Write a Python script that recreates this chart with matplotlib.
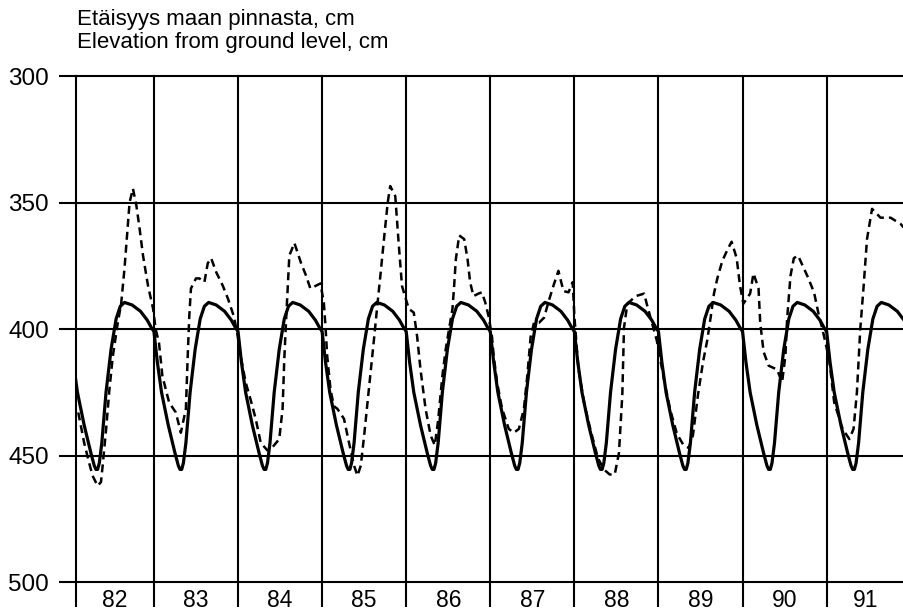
import numpy as np
import matplotlib.pyplot as plt

plt.rcParams['font.family'] = ['Liberation Sans', 'DejaVu Sans']

years = list(range(82, 92))
x_start, x_end = 82.067, 91.92

# typical seasonal curve: fraction of year -> depth below ground (cm)
profile_frac = [0.00, 0.04, 0.09, 0.17, 0.25, 0.29, 0.31, 0.33, 0.35, 0.38,
                0.43, 0.49, 0.55, 0.60, 0.65, 0.74, 0.84, 0.92, 0.97]
profile_depth = [401, 413, 425, 438, 449, 454, 455.5, 455.5, 453, 445,
                 425, 408, 396, 391, 389.5, 390.5, 393, 396.5, 399.5]

# observed levels
obs_time = [
    82.10, 82.17, 82.23, 82.27, 82.33, 82.37, 82.39, 82.43, 82.47, 82.51, 82.57,
    82.61, 82.65, 82.68, 82.71, 82.75, 82.79, 82.83, 82.87, 82.93, 82.99,
    83.02, 83.06, 83.10, 83.18, 83.26, 83.32, 83.38, 83.40, 83.42, 83.44,
    83.50, 83.54, 83.60, 83.64, 83.68, 83.74, 83.82, 83.88, 83.95, 83.99,
    84.03, 84.09, 84.15, 84.21, 84.27, 84.35, 84.39, 84.49, 84.53, 84.55,
    84.57, 84.61, 84.67, 84.75, 84.81, 84.86, 84.98,
    85.02, 85.04, 85.06, 85.10, 85.14, 85.18, 85.26, 85.32, 85.38, 85.42,
    85.46, 85.50, 85.54, 85.58, 85.62, 85.66, 85.70, 85.74, 85.78, 85.81,
    85.87, 85.91, 85.95,
    86.03, 86.09, 86.13, 86.17, 86.23, 86.29, 86.34, 86.38, 86.43, 86.47,
    86.51, 86.55, 86.57, 86.59, 86.63, 86.69, 86.73, 86.76, 86.80, 86.86,
    86.90, 86.94, 86.98,
    87.02, 87.04, 87.08, 87.14, 87.22, 87.28, 87.34, 87.40, 87.44, 87.48,
    87.52, 87.58, 87.64, 87.69, 87.75, 87.81, 87.87, 87.93, 87.98,
    88.00, 88.03, 88.05, 88.12, 88.20, 88.28, 88.35, 88.42, 88.48, 88.53,
    88.57, 88.59, 88.63, 88.73, 88.83, 88.86, 88.98,
    89.06, 89.14, 89.22, 89.30, 89.36, 89.41, 89.47, 89.53, 89.58, 89.62,
    89.66, 89.70, 89.76, 89.83, 89.87, 89.93, 89.97,
    90.01, 90.09, 90.13, 90.19, 90.21, 90.25, 90.31, 90.41, 90.47, 90.51,
    90.53, 90.57, 90.61, 90.66, 90.77, 90.85, 90.91, 90.95,
    91.03, 91.09, 91.19, 91.27, 91.32, 91.36, 91.40, 91.44, 91.48, 91.54,
    91.64, 91.76, 91.88, 91.92,
]
obs_depth = [
    433, 445, 453, 458, 462, 460.5, 454, 440, 424, 411, 397.5,
    390, 376, 363, 350, 344.5, 351, 360.5, 371, 383, 392,
    400, 405.5, 418.5, 429, 433, 441, 431.5, 412, 395, 384,
    380, 380, 381.5, 374, 372, 377.5, 383, 388, 395, 401.5,
    410.5, 421, 428, 435.5, 445, 448, 447.5, 443.5, 431.5, 412,
    397.5, 371, 366, 374, 379, 384, 382,
    389.5, 399, 410.5, 424, 430.5, 431.5, 435.5, 445, 454, 458,
    454, 442, 429, 416, 403, 389.5, 376.5, 363, 350, 343.5,
    347.5, 366, 383,
    392, 393.5, 403, 416, 431.5, 442, 446, 436, 418.5, 408,
    400, 392, 383, 372.5, 363, 364.5, 372.5, 381.5, 387, 386,
    385.5, 389.5, 395,
    403, 410.5, 421, 431.5, 439.5, 441, 439.5, 431.5, 418.5, 403,
    397.5, 397.5, 395.5, 389.5, 383, 377, 385, 385.5, 381.5,
    395, 408, 416, 430, 441, 451, 455.5, 457.5, 457.5, 449,
    426, 399.5, 390, 387, 386, 390, 404.5,
    419, 432, 441.5, 446, 447, 442, 426, 413, 404.5, 395.5,
    386, 380, 373, 368, 365.5, 372, 383,
    390, 386, 378, 384, 397.5, 409, 414.5, 416, 421, 410.5,
    396, 379, 372, 371, 379, 385.5, 395, 400,
    412, 429, 439.5, 443.5, 439.5, 425, 400, 383, 364.5, 352.5,
    356, 356, 358.5, 360,
]

y_ticks = [300, 350, 400, 450, 500]

model_time = np.concatenate([y + np.array(profile_frac) for y in years])
model_depth = np.tile(profile_depth, len(years))

fig = plt.figure(figsize=(9.04, 6.11), dpi=100)
ax = fig.add_axes([75.5 / 904, 1 - 582 / 611, 1 - 75.5 / 904, (582 - 76) / 611])

ax.plot(model_time, model_depth, color='black', lw=2.3, solid_joinstyle='round')
ax.plot(obs_time, obs_depth, color='black', lw=1.8, ls=(0, (3.2, 2.0)))

ax.set_xlim(x_start, x_end)
ax.set_ylim(500, 300)

# year boundaries as long ticks + grid, labels centred in each year
ax.set_xticks([x_start] + years[1:])
ax.set_xticklabels([])
centers = [(max(y, x_start) + min(y + 1, x_end)) / 2 for y in years]
ax.set_xticks(centers, minor=True)
ax.set_xticklabels([str(y) for y in years], minor=True)
ax.tick_params(axis='x', which='major', length=18, width=1.5, direction='out')
ax.tick_params(axis='x', which='minor', length=0, pad=5, labelsize=16.5)

ax.set_yticks(y_ticks)
ax.tick_params(axis='y', length=12, width=1.5, pad=7, labelsize=17.5)

ax.grid(True, color='black', lw=1.5)
for line in ax.get_xgridlines() + ax.get_ygridlines():
    line.set_clip_on(False)
for s in ax.spines.values():
    s.set_visible(False)

fig.text(77 / 904, 1 - 25 / 611, "Etäisyys maan pinnasta, cm", fontsize=16, va='baseline')
fig.text(77 / 904, 1 - 48 / 611, "Elevation from ground level, cm", fontsize=16, va='baseline')

fig.savefig("out.png", dpi=100)
